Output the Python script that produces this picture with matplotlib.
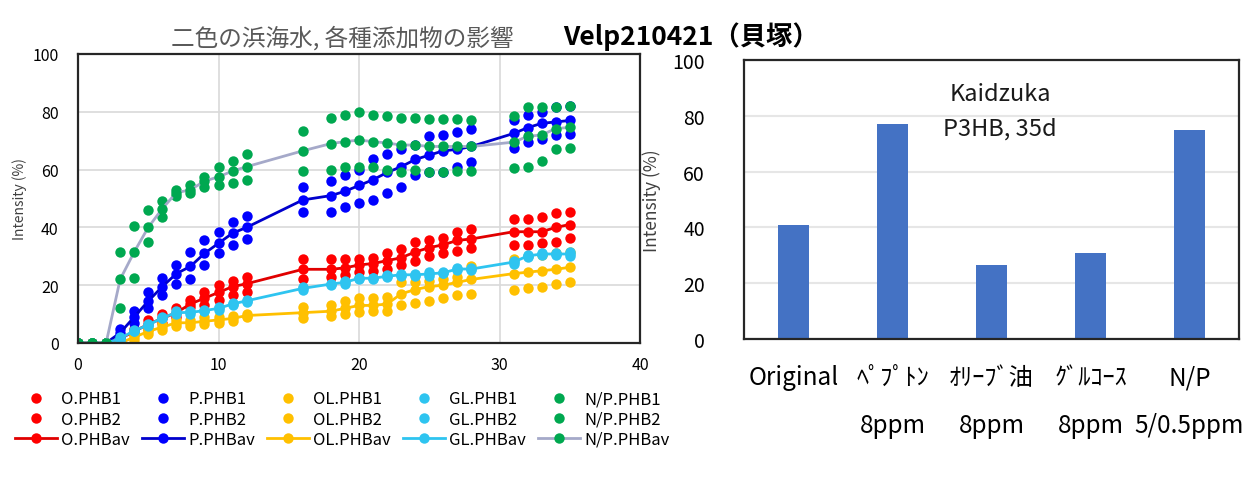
import matplotlib
matplotlib.use("Agg")
import matplotlib.pyplot as plt
from matplotlib.lines import Line2D

plt.rcParams['font.family'] = ['Noto Sans CJK JP', 'DejaVu Sans']

# sampling days
days = [0, 1, 2, 3, 4, 5, 6, 7, 8, 9, 10, 11, 12, 16, 18, 19, 20, 21, 22, 23,
        24, 25, 26, 27, 28, 31, 32, 33, 34, 35]

# Original seawater
o_phb1 = [0, 0, 0, 2, 5, 8, 10, 12, 15, 17.5, 20, 21.5, 23, 29, 29, 29, 29, 29.5, 31, 32.5,
          35, 35.5, 36.5, 38.5, 39.5, 43, 43, 43.5, 45, 45.5]
o_phb2 = [0, 0, 0, 1, 3, 5, 7, 9, 12.5, 13, 15, 16.5, 17.5, 22, 23, 23.5, 24.5, 25, 25.5, 27,
          28.5, 30, 31, 32, 33, 34, 34, 34.5, 35, 36.5]
o_phbav = [0, 0, 0, 1.5, 4, 6.5, 8.5, 10.5, 13.5, 15.5, 17.5, 19.5, 20.5, 25.5, 25.5, 26, 27, 27.5, 28.5, 29.5,
           31.5, 33, 34, 35.5, 36, 38.5, 38.5, 38.5, 40, 41]

# peptone 8ppm
p_phb1 = [0, 0, 0, 5, 11, 17.5, 22.5, 27, 31.5, 35.5, 38.5, 42, 44, 54, 56, 58, 60, 63.5, 65.5, 67,
          68.5, 71.5, 72, 73, 74, 77, 79, 80, 81.5, 82]
p_phb2 = [0, 0, 0, 2, 7, 12, 16.5, 20.5, 22, 27, 31, 34, 36, 45.5, 45.5, 47, 48.5, 49.5, 52, 54,
          58, 59, 59, 61, 62.5, 67.5, 69.5, 70.5, 72, 72.3]
p_phbav = [0, 0, 0, 3.5, 9, 14.5, 19.5, 24, 26.5, 31, 34.5, 38, 40, 49.5, 51, 52.5, 54.5, 56.5, 59, 61,
           63.5, 65, 66.5, 67, 68, 72.5, 74.5, 76, 76.5, 77]

# olive oil 8ppm
ol_phb1 = [0, 0, 0, 0.5, 3, 5, 6.5, 8, 8, 9, 9, 9.5, 10, 12.5, 13, 14.5, 15.5, 15.5, 16, 21,
           21, 21.5, 22, 23, 26.5, 29, 30, 30.5, 31, 31.5]
ol_phb2 = [0, 0, 0, 0, 1, 3, 4.5, 6, 6, 6.5, 7, 7.5, 9, 8.5, 9.5, 10, 10.6, 11, 11, 13,
           14, 14.5, 15.5, 16.5, 17, 18.5, 19, 19.5, 20.5, 21]
ol_phbav = [0, 0, 0, 0, 2, 4, 5.5, 7, 7, 7.5, 8, 8.5, 9.5, 10.5, 11, 12, 13, 13, 13.5, 17,
            18.5, 19.5, 20, 21, 22, 24, 24.5, 25, 25.5, 26.2]

# glucose 8ppm
gl_phb1 = [0, 0, 0, 2, 4.5, 6.5, 9, 11, 11, 11.5, 12.5, 14, 15, 19.5, 20.5, 21.5, 22.5, 22.5, 23.5, 24,
           24, 24.5, 24.5, 26, 26, 28.5, 30.5, 31, 31, 31.5]
gl_phb2 = [0, 0, 0, 1, 4, 6, 8.5, 10, 10.2, 11, 11.5, 13, 14.2, 18.3, 20.2, 20.5, 22.2, 22.2, 22.7, 23.2,
           23.2, 23.3, 24.1, 25.2, 25.2, 27.5, 29.7, 30.6, 30.6, 30.2]
gl_phbav = [0, 0, 0, 1.5, 4.3, 6.2, 8.7, 10.5, 10.6, 11.2, 12, 13.5, 14.6, 18.9, 20.4, 21, 22.4, 22.4, 23.1, 23.6,
            23.6, 23.9, 24.3, 25.6, 25.6, 28, 30.1, 30.8, 30.8, 30.8]

# N/P 5/0.5ppm
np_phb1 = [0, 0, 0, 31.5, 40.5, 46, 49, 53, 54.5, 57.5, 61, 63, 65.5, 73.5, 78, 79, 80, 79, 78.5, 78,
           78, 77.5, 77.5, 77.5, 77, 78.5, 81.5, 81.5, 81.5, 82]
np_phb2 = [0, 0, 0, 12, 22.5, 35, 43.5, 51, 52, 54, 54.5, 55.5, 56.5, 59.5, 60, 61, 61, 61, 60, 59,
           60, 59, 59, 59.5, 59.5, 60.5, 61, 63, 67, 67.5]
np_phbav = [0, 0, 0, 22, 31.5, 40, 46.5, 52, 53, 56, 57.5, 59.5, 61, 66.5, 69, 69.7, 70.2, 69.7, 69.2, 68.5,
            68.5, 68, 68, 68, 68, 69.5, 71.5, 72, 74.2, 74.6]

# day-35 summary
bar_labels = ['Original', 'ﾍﾟﾌﾟﾄﾝ\n8ppm', 'ｵﾘｰﾌﾞ油\n8ppm', 'ｸﾞﾙｺｰｽ\n8ppm', 'N/P\n5/0.5ppm']
bar_values = [41, 77, 26.5, 31, 75]

groups = [
    ('O', o_phb1, o_phb2, o_phbav, '#ff0000', '#e00000'),
    ('P', p_phb1, p_phb2, p_phbav, '#0000ff', '#0000cc'),
    ('OL', ol_phb1, ol_phb2, ol_phbav, '#ffc000', '#ffc000'),
    ('GL', gl_phb1, gl_phb2, gl_phbav, '#2ec4f0', '#2ec4f0'),
    ('N/P', np_phb1, np_phb2, np_phbav, '#00a850', '#a5a9c9'),
]

W, H = 1243, 481
fig = plt.figure(figsize=(W / 100, H / 100), dpi=100)
fig.patch.set_facecolor('white')

ax = fig.add_axes([78 / W, 1 - 344 / H, (640 - 78) / W, (344 - 55) / H])
ms = 7.5
handles = []
for name, s1, s2, av, col, lcol in groups:
    h1, = ax.plot(days, s1, 'o', color=col, ms=ms, mec='none', label=f'{name}.PHB1')
    h2, = ax.plot(days, s2, 'o', color=col, ms=ms, mec='none', label=f'{name}.PHB2')
    ax.plot(days, av, '-', color=lcol, lw=2)
    ax.plot(days, av, 'o', color=col, ms=ms, mec='none')
    h3 = Line2D([], [], color=lcol, lw=2, marker='o', ms=ms, mfc=col, mec='none',
                label=f'{name}.PHBav')
    handles += [h1, h2, h3]

ax.set_xlim(0, 40)
ax.set_ylim(0, 100)
ax.set_xticks(range(0, 41, 10))
ax.set_yticks(range(0, 101, 20))
ax.grid(True, color='#d9d9d9', lw=1.2)
ax.set_axisbelow(True)
ax.tick_params(length=0, labelsize=11.5, pad=9)
ax.tick_params(axis='y', pad=14)
for sp in ax.spines.values():
    sp.set_color('#262626')
    sp.set_linewidth(1.6)
ax.set_ylabel('Intensity (%)', fontsize=10, color='#404040', labelpad=4)

fig.legend(handles=handles, ncol=5, loc='upper left',
           bbox_to_anchor=(7 / W, 1 - 383 / H), frameon=False,
           fontsize=12, handlelength=2.5, handletextpad=0.25,
           columnspacing=0.75, labelspacing=0.2, borderpad=0)

fig.text(342 / W, 1 - 38 / H, '二色の浜海水, 各種添加物の影響', ha='center', va='center',
         fontsize=17, color='#595959')
fig.text(563 / W, 1 - 37 / H, 'Velp210421（貝塚）', ha='left', va='center',
         fontsize=19, fontweight='bold', color='#000000')

# bar summary on the right
bx = fig.add_axes([744 / W, 1 - 340 / H, (1239 - 744) / W, (340 - 61) / H])
xs = range(len(bar_values))
bx.bar(xs, bar_values, width=0.32, color='#4472c4', zorder=2)
bx.set_xlim(-0.5, 4.5)
bx.set_ylim(0, 100)
bx.set_yticks(range(0, 101, 20))
bx.set_xticks(list(xs))
bx.set_xticklabels(bar_labels, fontsize=17, linespacing=2.12, va='top')
bx.yaxis.grid(True, color='#e6e6e6', lw=1.5)
bx.set_axisbelow(True)
bx.tick_params(length=0, labelsize=14)
bx.tick_params(axis='y', pad=28)
bx.tick_params(axis='x', pad=18, labelsize=17.5)
for sp in bx.spines.values():
    sp.set_color('#262626')
    sp.set_linewidth(1.6)
bx.set_ylabel('Intensity (%)', fontsize=12.5, color='#404040', labelpad=8)
bx.text(0.517, 0.92, 'Kaidzuka\nP3HB, 35d', transform=bx.transAxes, ha='center', va='top',
        fontsize=17, linespacing=1.65, color='#1a1a1a')

fig.savefig('out.png', dpi=100, facecolor='white')
